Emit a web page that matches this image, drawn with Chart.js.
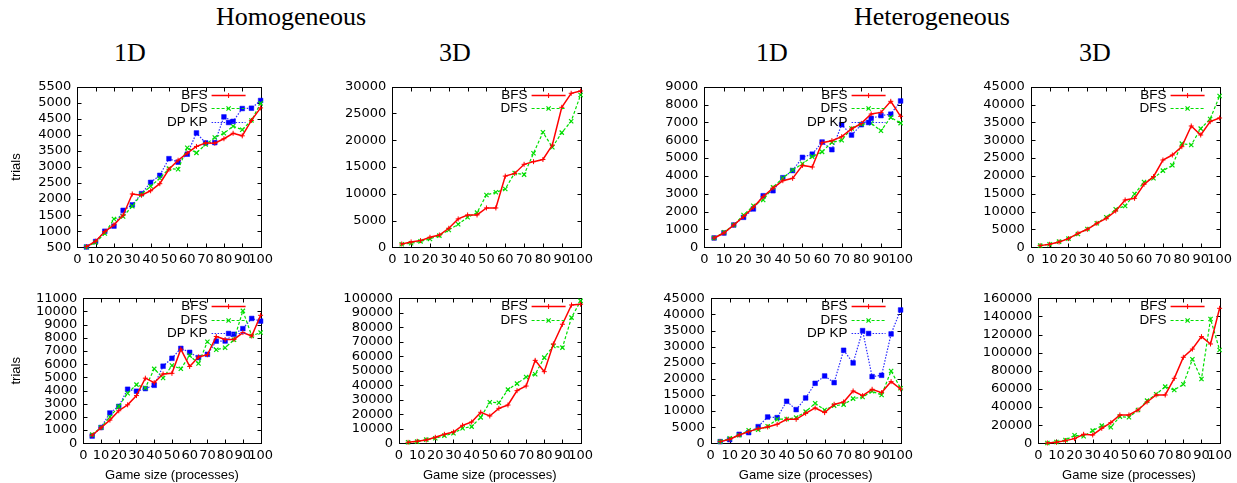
<!DOCTYPE html>
<html><head><meta charset="utf-8">
<script src="https://cdn.jsdelivr.net/npm/chart.js@4"></script>
<style>
body{margin:0;background:#fff;}
#wrap{position:relative;width:1237px;height:483px;overflow:hidden;background:#fff;}
#wrap canvas{position:absolute;}
.t{position:absolute;font-family:"Liberation Serif",serif;font-size:26px;line-height:1;transform:translateX(-50%);white-space:nowrap;color:#000;}
</style></head><body>
<div id="wrap">
<div class="t" style="left:291px;top:4px">Homogeneous</div>
<div class="t" style="left:932px;top:4px">Heterogeneous</div>
<div class="t" style="left:130px;top:40px">1D</div>
<div class="t" style="left:455px;top:40px">3D</div>
<div class="t" style="left:772px;top:40px">1D</div>
<div class="t" style="left:1095px;top:40px">3D</div>
</div>
<script>
// ---- data ----
const sizes = [5,10,15,20,25,30,35,40,45,50,55,60,65,70,75,80,85,90,95,100];
const xTicksMin = 0, xTicksMax = 100, xTickStep = 10;

// Homogeneous 1D (upper)
const hom1dUpBfs  = [520,690,990,1200,1500,2160,2120,2260,2480,2930,3210,3430,3640,3750,3740,3880,4050,3970,4450,4840];
const hom1dUpDfs  = [510,650,930,1380,1460,1780,2150,2400,2650,2950,2930,3600,3440,3700,3920,4050,4270,4160,4450,4980];
const hom1dUpDpkp = [510,680,1000,1160,1650,1820,2170,2520,2740,3260,3150,3400,4060,3750,3760,4560,4420,4820,4830,5070];
// Homogeneous 3D (upper)
const hom3dUpBfs  = [620,1000,1250,1870,2300,3550,5300,6040,6040,7350,7350,13300,13800,15500,16000,16400,19100,26150,28770,29200];
const hom3dUpDfs  = [560,750,1100,1560,2180,3240,4300,5600,6480,9780,10270,10900,13890,13580,17560,21480,18680,21420,23540,28460];
// Heterogeneous 1D (upper)
const het1dUpBfs  = [523,800,1250,1718,2240,2840,3320,3734,3865,4590,4500,5862,5975,6200,6630,6945,7470,7560,8180,7340];
const het1dUpDfs  = [520,840,1250,1810,2330,2650,3360,3880,4330,4680,5080,5350,5880,6000,6660,6900,6950,6530,7280,6960];
const het1dUpDpkp = [523,800,1250,1680,2150,2890,3170,3900,4300,5040,5220,5900,5470,6870,6290,6870,7230,7380,7460,8200];
// Heterogeneous 3D (upper)
const het3dUpBfs  = [470,840,1490,2430,3920,5040,6720,8120,10180,13260,13730,17650,19800,24460,25860,28200,33990,31470,35200,36230];
const het3dUpDfs  = [470,840,1590,2430,3730,5140,6720,8400,10650,11580,14940,18300,19330,21480,22970,29040,28670,33240,35950,42390];
// Homogeneous 1D (lower)
const hom1dLoBfs  = [610,1180,1760,2470,2920,3620,4940,4600,5260,5310,7140,5830,6550,6720,8100,7870,7880,8400,8140,9710];
const hom1dLoDfs  = [660,1200,2000,2800,3800,4450,4200,5650,4950,5900,5650,6650,6050,7700,7100,7250,7850,10050,8150,8400];
const hom1dLoDpkp = [550,1200,2300,2800,4100,3950,4150,4400,5850,6450,7200,6900,6500,6750,7750,7760,8270,8700,9470,9270];
// Homogeneous 3D (lower)
const hom3dLoBfs  = [690,1380,2300,4140,6200,7800,12400,14700,21400,18850,24100,26400,36300,39500,57200,49400,68500,82100,95400,95900];
const hom3dLoDfs  = [690,1150,2530,3450,5290,6900,10340,11500,17900,28300,28000,37000,41150,45750,47600,59100,67100,66000,86700,98200];
// Heterogeneous 1D (lower)
const het1dLoBfs  = [520,1240,2590,3620,4550,5070,5900,7450,7450,9310,10970,9520,12100,12830,16240,14800,16760,15730,19140,16860];
const het1dLoDfs  = [520,1550,2480,4030,4240,5280,7450,7550,7970,9830,12410,10350,11690,12000,13860,14380,16140,15000,22450,17070];
const het1dLoDpkp = [520,1140,2790,3310,5170,8170,7970,13040,10450,14070,18620,20900,18830,28870,24940,34970,20690,21100,33940,41380];
// Heterogeneous 3D (lower)
const het3dLoBfs  = [370,1100,2940,5150,9930,9200,16550,22800,31260,31260,36780,45600,53330,53330,71720,94900,104000,117700,109600,148960];
const het3dLoDfs  = [370,1470,3680,8830,7720,13980,19490,17650,29400,28700,36780,47080,54070,62530,58850,65100,92690,70990,137190,102990];

// y axis ranges [min, max, step]
const yRanges = [
  [500,5500,500],[0,30000,5000],[0,9000,1000],[0,45000,5000],
  [0,11000,1000],[0,100000,10000],[0,45000,5000],[0,160000,20000]
];
const yTitle = 'trials';
const xTitle = 'Game size (processes)';

// ---- styles ----
const styles = {
  'BFS':   {borderColor:'#ff0000', borderWidth:1.5, borderDash:[], pointStyle:'cross', pointRadius:2.5, pointBorderWidth:1, pointBorderColor:'#ff0000', pointBackgroundColor:'#ff0000'},
  'DFS':   {borderColor:'#00e000', borderWidth:1.2, borderDash:[3,2], pointStyle:'crossRot', pointRadius:3, pointBorderWidth:1.2, pointBorderColor:'#00dd00', pointBackgroundColor:'#00dd00'},
  'DP KP': {borderColor:'#2a2aff', borderWidth:1.2, borderDash:[1.5,1.5], pointStyle:'rect', pointRadius:3.3, pointBorderWidth:0.5, pointBorderColor:'#0000ff', pointBackgroundColor:'#0000ff'}
};

const tickFont = {family:'"DejaVu Sans", sans-serif', size:13};
const labelFont = {family:'"Liberation Sans", Arial, sans-serif', size:13};

const gnuFrame = {
  id:'gnuFrame',
  beforeDatasetsDraw(chart){
    const {ctx, chartArea:a, scales} = chart;
    const l = Math.round(a.left)+0.5, r = Math.round(a.right)+0.5, t = Math.round(a.top)+0.5, b = Math.round(a.bottom)+0.5;
    ctx.save();
    ctx.strokeStyle = '#000'; ctx.lineWidth = 1;
    ctx.strokeRect(l, t, r-l, b-t);
    const L = 4;
    ctx.beginPath();
    scales.x.ticks.forEach(tk => {
      const px = Math.round(scales.x.getPixelForValue(tk.value))+0.5;
      ctx.moveTo(px,b); ctx.lineTo(px,b-L); ctx.moveTo(px,t); ctx.lineTo(px,t+L);
    });
    scales.y.ticks.forEach(tk => {
      const py = Math.round(scales.y.getPixelForValue(tk.value))+0.5;
      ctx.moveTo(l,py); ctx.lineTo(l+L,py); ctx.moveTo(r,py); ctx.lineTo(r-L,py);
    });
    ctx.stroke();
    ctx.restore();
  },
  afterDatasetsDraw(chart){
    const {ctx, chartArea:a} = chart;
    const offs = [8, 21.5, 35];
    chart.data.datasets.forEach((d,i) => {
      const y = Math.round(a.top + offs[i]) + 0.5;
      ctx.save();
      ctx.font = '13.5px "Liberation Sans", Arial, sans-serif';
      ctx.fillStyle = '#000'; ctx.textAlign = 'right'; ctx.textBaseline = 'middle';
      ctx.fillText(d.label, a.right - 53, y);
      ctx.strokeStyle = d.borderColor; ctx.lineWidth = d.borderWidth; ctx.setLineDash(d.borderDash);
      ctx.beginPath(); ctx.moveTo(a.right-49, y); ctx.lineTo(a.right-15, y); ctx.stroke();
      ctx.setLineDash([]);
      ctx.fillStyle = d.pointBackgroundColor; ctx.strokeStyle = d.pointBorderColor; ctx.lineWidth = d.pointBorderWidth;
      Chart.helpers.drawPoint(ctx, {pointStyle:d.pointStyle, radius:d.pointRadius, rotation:0, borderWidth:d.pointBorderWidth}, a.right-32, y);
      ctx.restore();
    });
  }
};

const panels = [
  {cx:0,   cy:70,  cw:278, ch:200, pl:77.3,  pr:262,  pt:86.7,  pb:247.3, yt:true,  xt:false, series:[['BFS',hom1dUpBfs],['DFS',hom1dUpDfs],['DP KP',hom1dUpDpkp]]},
  {cx:290, cy:70,  cw:308, ch:200, pl:392.3, pr:582,  pt:86.7,  pb:247.3, yt:false, xt:false, series:[['BFS',hom3dUpBfs],['DFS',hom3dUpDfs]]},
  {cx:610, cy:70,  cw:308, ch:200, pl:704.3, pr:902,  pt:86.7,  pb:247.3, yt:false, xt:false, series:[['BFS',het1dUpBfs],['DFS',het1dUpDfs],['DP KP',het1dUpDpkp]]},
  {cx:930, cy:70,  cw:307, ch:200, pl:1030.7,pr:1222, pt:86.7,  pb:247.3, yt:false, xt:false, series:[['BFS',het3dUpBfs],['DFS',het3dUpDfs]]},
  {cx:0,   cy:280, cw:278, ch:203, pl:83.3,  pr:262,  pt:298.3, pb:443.3, yt:true,  xt:true,  series:[['BFS',hom1dLoBfs],['DFS',hom1dLoDfs],['DP KP',hom1dLoDpkp]]},
  {cx:290, cy:280, cw:308, ch:203, pl:399,   pr:582,  pt:298.3, pb:443.3, yt:false, xt:true,  series:[['BFS',hom3dLoBfs],['DFS',hom3dLoDfs]]},
  {cx:610, cy:280, cw:308, ch:203, pl:710.7, pr:902,  pt:298.3, pb:443.3, yt:false, xt:true,  series:[['BFS',het1dLoBfs],['DFS',het1dLoDfs],['DP KP',het1dLoDpkp]]},
  {cx:930, cy:280, cw:307, ch:203, pl:1038.3,pr:1222, pt:298.3, pb:443.3, yt:false, xt:true,  series:[['BFS',het3dLoBfs],['DFS',het3dLoDfs]]}
];

Chart.defaults.color = '#000';
const wrap = document.getElementById('wrap');

panels.forEach((p, k) => {
  const c = document.createElement('canvas');
  c.width = p.cw; c.height = p.ch;
  c.style.left = p.cx+'px'; c.style.top = p.cy+'px';
  c.style.width = p.cw+'px'; c.style.height = p.ch+'px';
  wrap.appendChild(c);
  const [ymin, ymax, ystep] = yRanges[k];
  new Chart(c, {
    type:'line',
    data:{datasets: p.series.map(([name, vals]) => Object.assign({
      label:name,
      data: sizes.map((x,i) => ({x:x, y:vals[i]})),
      tension:0, fill:false, clip:false
    }, styles[name]))},
    options:{
      responsive:false, animation:false, devicePixelRatio:1,
      events:[],
      layout:{padding:{top:p.pt-p.cy, right:p.cx+p.cw-p.pr, left:0, bottom:0}},
      plugins:{legend:{display:false}, tooltip:{enabled:false}},
      scales:{
        x:{type:'linear', min:xTicksMin, max:xTicksMax,
           ticks:{stepSize:xTickStep, autoSkip:false, maxRotation:0, minRotation:0, padding:5, font:tickFont, color:'#000', callback:v=>String(v)},
           grid:{display:false, drawTicks:false}, border:{display:false},
           title:{display:p.xt, text:xTitle, font:labelFont, color:'#000', padding:{top:0,bottom:0}},
           afterFit:s=>{s.height = p.cy+p.ch-p.pb;}},
        y:{type:'linear', min:ymin, max:ymax,
           ticks:{stepSize:ystep, autoSkip:false, padding:6, font:tickFont, color:'#000', callback:v=>String(v)},
           grid:{display:false, drawTicks:false}, border:{display:false},
           title:{display:p.yt, text:yTitle, font:labelFont, color:'#000', padding:{top:9,bottom:0}},
           afterFit:s=>{s.width = p.pl-p.cx;}}
      }
    },
    plugins:[gnuFrame]
  });
});
</script>
</body></html>
